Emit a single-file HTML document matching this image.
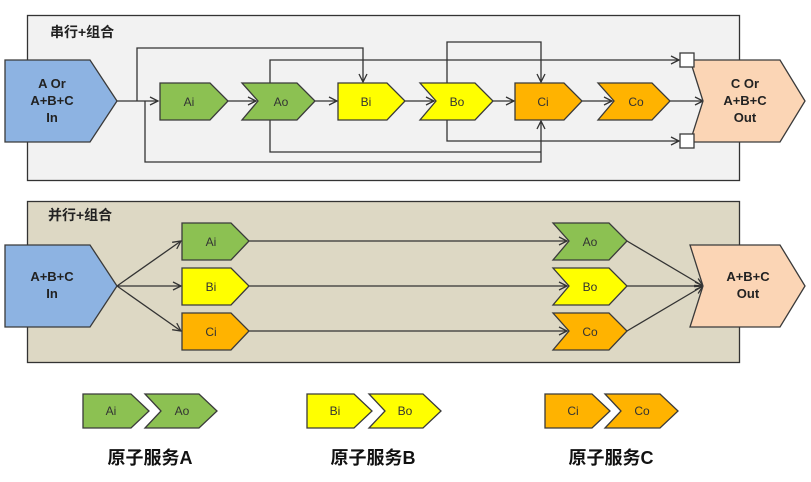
<!DOCTYPE html>
<html><head><meta charset="utf-8"><style>
body{margin:0;background:#fff}
svg{display:block}
text{font-family:"Liberation Sans","Noto Sans CJK SC",sans-serif}
.s{font-size:12px;fill:#333}
.b{font-size:13px;font-weight:bold;fill:#222}
.t{font-size:14px;font-weight:bold;fill:#222}
.l{font-size:18px;font-weight:bold;fill:#111}
</style></head><body>
<svg width="811" height="482" viewBox="0 0 811 482">
<defs>
<marker id="a" markerWidth="12" markerHeight="12" refX="9" refY="5" orient="auto" markerUnits="userSpaceOnUse">
<polyline points="1,1 9,5 1,9" fill="none" stroke="#333" stroke-width="1.3"/>
</marker>
</defs>
<!-- panels -->
<rect x="27.5" y="15.5" width="712" height="165" fill="#f2f2f2" stroke="#333" stroke-width="1.3"/>
<rect x="27.5" y="201.5" width="712" height="161" fill="#ddd8c4" stroke="#333" stroke-width="1.3"/>
<text class="t" x="50" y="37">串行+组合</text>
<text class="t" x="48" y="220">并行+组合</text>

<g fill="none" stroke="#333" stroke-width="1.3">
<!-- top connectors -->
<path d="M117 101 H158" marker-end="url(#a)"/>
<path d="M137 101 V48 H363 V82" marker-end="url(#a)"/>
<path d="M145 101 V162 H541 V121" marker-end="url(#a)"/>
<path d="M227 101 H256" marker-end="url(#a)"/>
<path d="M270 84 V60 H679" marker-end="url(#a)"/>
<path d="M270 119 V152 H541"/>
<path d="M315 101 H337" marker-end="url(#a)"/>
<path d="M405 101 H434" marker-end="url(#a)"/>
<path d="M447 84 V42 H541 V82" marker-end="url(#a)"/>
<path d="M447 119 V141 H679" marker-end="url(#a)"/>
<path d="M493 101 H514" marker-end="url(#a)"/>
<path d="M582 101 H612" marker-end="url(#a)"/>
<path d="M670 101 H703" marker-end="url(#a)"/>
<!-- bottom connectors -->
<path d="M117 286 L181 241" marker-end="url(#a)"/>
<path d="M117 286 H181" marker-end="url(#a)"/>
<path d="M117 286 L181 331" marker-end="url(#a)"/>
<path d="M249 241 H567" marker-end="url(#a)"/>
<path d="M249 286 H567" marker-end="url(#a)"/>
<path d="M249 331 H567" marker-end="url(#a)"/>
<path d="M627 241 L703 286" marker-end="url(#a)"/>
<path d="M627 286 H703" marker-end="url(#a)"/>
<path d="M627 331 L703 286" marker-end="url(#a)"/>
</g>

<g stroke="#3a3a3a" stroke-width="1.3">
<!-- top shapes -->
<polygon points="5,60 90,60 117,101 90,142 5,142" fill="#8db3e2"/>
<polygon points="160,83 210,83 228,101 210,120 160,120" fill="#8cc152"/>
<polygon points="242,83 297,83 315,101 297,120 242,120 258,101" fill="#8cc152"/>
<polygon points="338,83 387,83 405,101 387,120 338,120" fill="#ffff00"/>
<polygon points="420,83 475,83 493,101 475,120 420,120 436,101" fill="#ffff00"/>
<polygon points="515,83 564,83 582,101 564,120 515,120" fill="#ffb300"/>
<polygon points="598,83 652,83 670,101 652,120 598,120 614,101" fill="#ffb300"/>
<polygon points="690,60 780,60 805,101 780,142 690,142 703,101" fill="#fbd5b5"/>
<rect x="680" y="53" width="14" height="14" fill="#fff"/>
<rect x="680" y="134" width="14" height="14" fill="#fff"/>
<!-- bottom shapes -->
<polygon points="5,245 90,245 117,286 90,327 5,327" fill="#8db3e2"/>
<polygon points="182,223 231,223 249,241 231,260 182,260" fill="#8cc152"/>
<polygon points="182,268 231,268 249,286 231,305 182,305" fill="#ffff00"/>
<polygon points="182,313 231,313 249,331 231,350 182,350" fill="#ffb300"/>
<polygon points="553,223 609,223 627,241 609,260 553,260 569,241" fill="#8cc152"/>
<polygon points="553,268 609,268 627,286 609,305 553,305 569,286" fill="#ffff00"/>
<polygon points="553,313 609,313 627,331 609,350 553,350 569,331" fill="#ffb300"/>
<polygon points="690,245 780,245 805,286 780,327 690,327 703,286" fill="#fbd5b5"/>
<!-- legend -->
<polygon points="83,394 131,394 149,411 131,428 83,428" fill="#8cc152"/>
<polygon points="145,394 199,394 217,411 199,428 145,428 161,411" fill="#8cc152"/>
<polygon points="307,394 354,394 372,411 354,428 307,428" fill="#ffff00"/>
<polygon points="369,394 423,394 441,411 423,428 369,428 385,411" fill="#ffff00"/>
<polygon points="545,394 592,394 610,411 592,428 545,428" fill="#ffb300"/>
<polygon points="605,394 660,394 678,411 660,428 605,428 621,411" fill="#ffb300"/>
</g>

<g text-anchor="middle">
<text class="b" x="52" y="88">A Or</text>
<text class="b" x="52" y="105">A+B+C</text>
<text class="b" x="52" y="122">In</text>
<text class="s" x="189" y="106">Ai</text>
<text class="s" x="281" y="106">Ao</text>
<text class="s" x="366" y="106">Bi</text>
<text class="s" x="457" y="106">Bo</text>
<text class="s" x="543" y="106">Ci</text>
<text class="s" x="636" y="106">Co</text>
<text class="b" x="745" y="88">C Or</text>
<text class="b" x="745" y="105">A+B+C</text>
<text class="b" x="745" y="122">Out</text>

<text class="b" x="52" y="281">A+B+C</text>
<text class="b" x="52" y="298">In</text>
<text class="s" x="211" y="246">Ai</text>
<text class="s" x="211" y="291">Bi</text>
<text class="s" x="211" y="336">Ci</text>
<text class="s" x="590" y="246">Ao</text>
<text class="s" x="590" y="291">Bo</text>
<text class="s" x="590" y="336">Co</text>
<text class="b" x="748" y="281">A+B+C</text>
<text class="b" x="748" y="298">Out</text>

<text class="s" x="111" y="415">Ai</text>
<text class="s" x="182" y="415">Ao</text>
<text class="s" x="335" y="415">Bi</text>
<text class="s" x="405" y="415">Bo</text>
<text class="s" x="573" y="415">Ci</text>
<text class="s" x="642" y="415">Co</text>
<text class="l" x="150" y="464">原子服务A</text>
<text class="l" x="373" y="464">原子服务B</text>
<text class="l" x="611" y="464">原子服务C</text>
</g>
</svg>
</body></html>
